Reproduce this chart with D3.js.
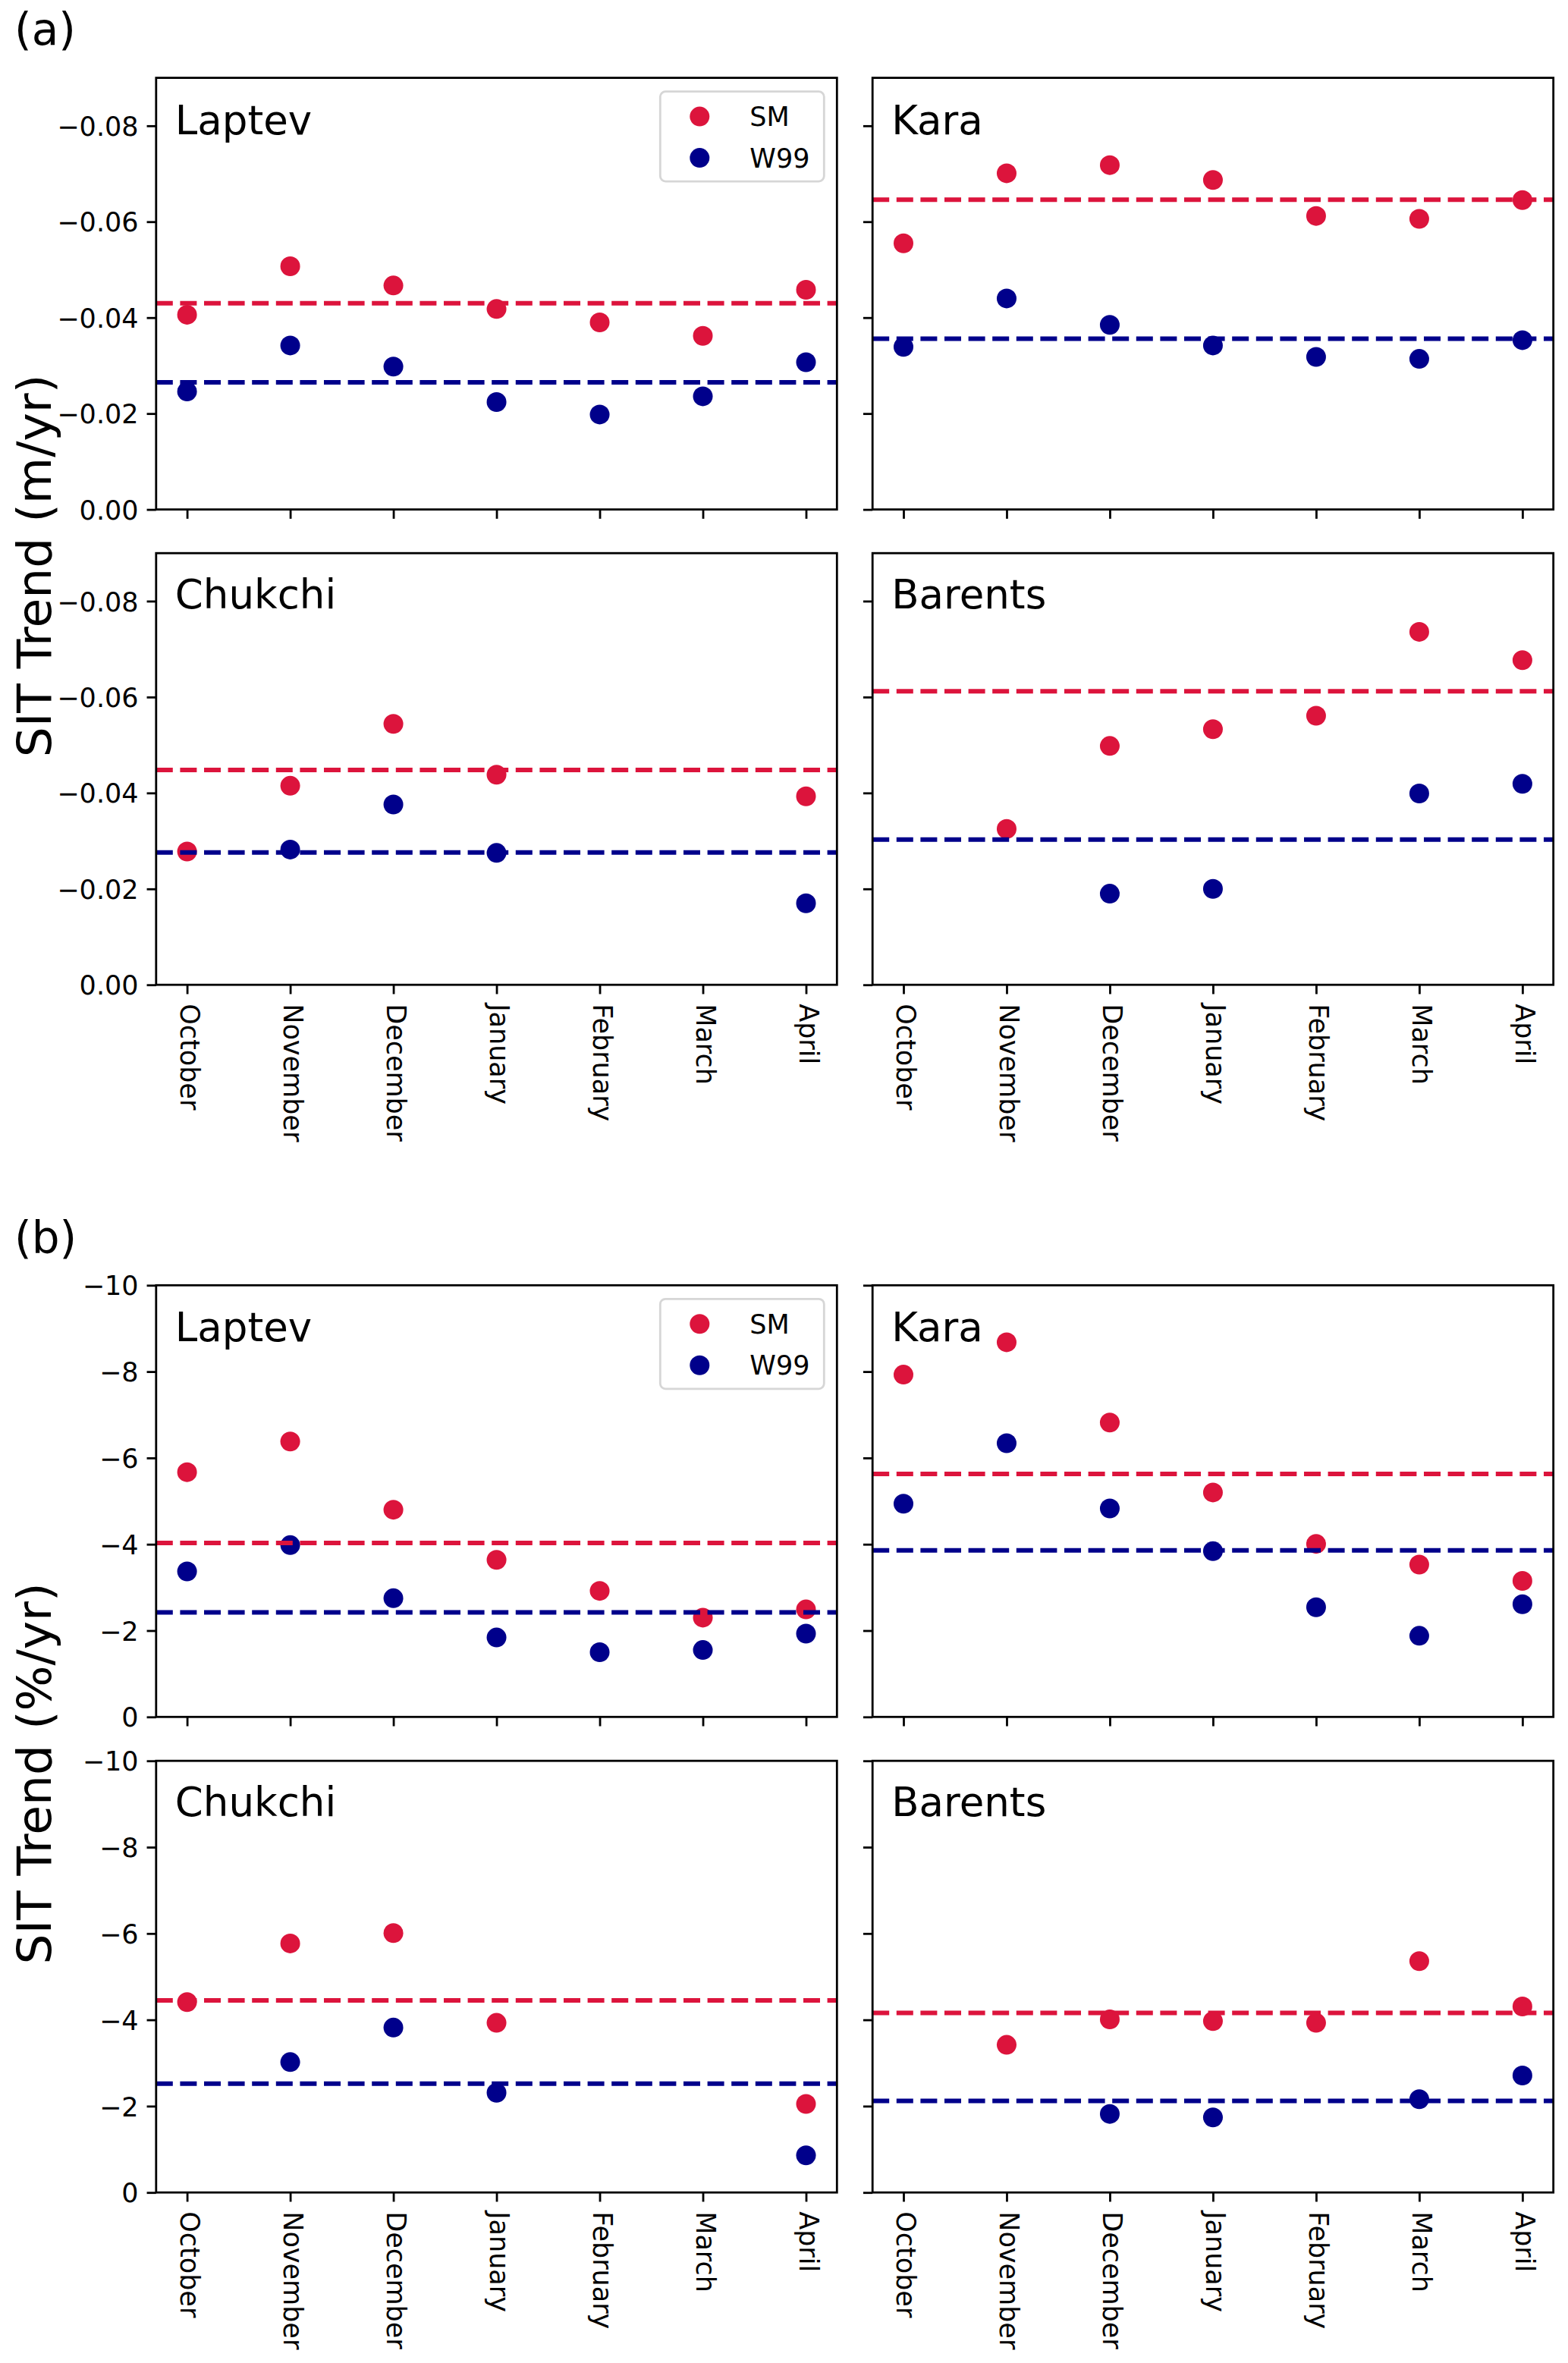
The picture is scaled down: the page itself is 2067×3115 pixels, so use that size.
<!DOCTYPE html>
<html>
<head>
<meta charset="utf-8">
<script src="https://cdn.jsdelivr.net/npm/d3@7"></script>
<style>
  html, body { margin: 0; padding: 0; background: #fff; }
  svg { display: block; font-family: "DejaVu Sans", sans-serif; }
</style>
</head>
<body>
<div id="chart"></div>
<script>
// SIT trend per month, four Arctic seas, two retrievals (SM, W99)
const months = ["October", "November", "December", "January", "February", "March", "April"];
const regions = ["Laptev", "Kara", "Chukchi", "Barents"];
const seriesNames = ["SM", "W99"];

// (a) trend in m/yr
const laptevSM_a   = [-0.0406, -0.0507, -0.0467, -0.0418, -0.0390, -0.0362, -0.0458];
const laptevW99_a  = [-0.0246, -0.0342, -0.0298, -0.0224, -0.0198, -0.0236, -0.0307];
const karaSM_a     = [-0.0555, -0.0701, -0.0718, -0.0687, -0.0612, -0.0606, -0.0645];
const karaW99_a    = [-0.0339, -0.0440, -0.0385, -0.0342, -0.0318, -0.0314, -0.0353];
const chukchiSM_a  = [-0.0278, -0.0415, -0.0544, -0.0438, null, null, -0.0393];
const chukchiW99_a = [null, -0.0282, -0.0376, -0.0275, null, null, -0.0170];
const barentsSM_a  = [null, -0.0325, -0.0498, -0.0533, -0.0561, -0.0736, -0.0677];
const barentsW99_a = [null, null, -0.0190, -0.0200, null, -0.0399, -0.0419];
const meanSM_a  = [-0.0430, -0.0646, -0.0448, -0.0612];
const meanW99_a = [-0.0265, -0.0356, -0.0276, -0.0303];
const ticks_a = [0, -0.02, -0.04, -0.06, -0.08];

// (b) trend in %/yr
const laptevSM_b   = [-5.67, -6.38, -4.80, -3.64, -2.92, -2.30, -2.49];
const laptevW99_b  = [-3.37, -3.98, -2.75, -1.84, -1.50, -1.55, -1.93];
const karaSM_b     = [-7.93, -8.68, -6.82, -5.20, -4.01, -3.53, -3.15];
const karaW99_b    = [-4.94, -6.34, -4.83, -3.84, -2.54, -1.88, -2.61];
const chukchiSM_b  = [-4.41, -5.77, -6.01, -3.93, null, null, -2.05];
const chukchiW99_b = [null, -3.02, -3.82, -2.31, null, null, -0.86];
const barentsSM_b  = [null, -3.42, -4.01, -3.97, -3.93, -5.36, -4.31];
const barentsW99_b = [null, null, -1.82, -1.74, null, -2.16, -2.71];
const meanSM_b  = [-4.03, -5.63, -4.45, -4.16];
const meanW99_b = [-2.42, -3.86, -2.52, -2.12];
const ticks_b = [0, -2, -4, -6, -8, -10];

const COLORS = { SM: "#DC143C", W99: "#00008B" };
const W = 2067, H = 3115;
const colX = [205.8, 1150.2];
const plotW = 897.5, plotH = 569;

const groups = [
  {
    tag: "(a)", tagY: 59, label: "SIT Trend (m/yr)", labelY: 746,
    tops: [102.6, 729.2], ymin: -0.09, ticks: ticks_a, fmt: d3.format(".2f"),
    sm: [laptevSM_a, karaSM_a, chukchiSM_a, barentsSM_a],
    w99: [laptevW99_a, karaW99_a, chukchiW99_a, barentsW99_a],
    meanSM: meanSM_a, meanW99: meanW99_a,
  },
  {
    tag: "(b)", tagY: 1652, label: "SIT Trend (%/yr)", labelY: 2338,
    tops: [1694.3, 2321.2], ymin: -10, ticks: ticks_b, fmt: d3.format("d"),
    sm: [laptevSM_b, karaSM_b, chukchiSM_b, barentsSM_b],
    w99: [laptevW99_b, karaW99_b, chukchiW99_b, barentsW99_b],
    meanSM: meanSM_b, meanW99: meanW99_b,
  },
];

const svg = d3.select("#chart").append("svg")
  .attr("width", W).attr("height", H)
  .attr("viewBox", `0 0 ${W} ${H}`)
  .style("overflow", "hidden");

svg.append("rect").attr("width", W).attr("height", H).attr("fill", "#fff");

groups.forEach(grp => {
  svg.append("text")
    .attr("x", 19).attr("y", grp.tagY)
    .attr("font-size", 58)
    .text(grp.tag);

  svg.append("text")
    .attr("transform", `translate(67,${grp.labelY}) rotate(-90)`)
    .attr("text-anchor", "middle")
    .attr("font-size", 63)
    .text(grp.label);

  regions.forEach((name, ri) => {
    const col = ri % 2, row = Math.floor(ri / 2);
    const x0 = colX[col], y0 = grp.tops[row];
    const g = svg.append("g").attr("transform", `translate(${x0},${y0})`);

    const x = d3.scaleLinear().domain([-0.3, 6.3]).range([0, plotW]);
    const y = d3.scaleLinear().domain([0, grp.ymin]).range([plotH, 0]);

    // axes
    const yAxis = d3.axisLeft(y).tickValues(grp.ticks)
      .tickSize(12.25).tickPadding(11)
      .tickFormat(col === 0 ? grp.fmt : () => "");
    const ya = g.append("g").call(yAxis);
    ya.select(".domain").remove();
    ya.selectAll(".tick line").attr("stroke-width", 2.8);
    ya.selectAll(".tick text").attr("font-size", 35).attr("font-family", "DejaVu Sans")
      .attr("dy", "0.36em");

    const xAxis = d3.axisBottom(x).tickValues(d3.range(months.length))
      .tickSize(12.25)
      .tickFormat(row === 1 ? (i => months[i]) : () => "");
    const xa = g.append("g").attr("transform", `translate(0,${plotH})`).call(xAxis);
    xa.select(".domain").remove();
    xa.selectAll(".tick line").attr("stroke-width", 2.8);
    xa.selectAll(".tick text")
      .attr("font-size", 35).attr("font-family", "DejaVu Sans")
      .attr("y", 0).attr("x", 25).attr("dy", "0.26em")
      .attr("transform", "rotate(90)")
      .style("text-anchor", "start");

    // points
    const drawPts = (vals, key) => {
      g.append("g").selectAll("circle")
        .data(vals.map((v, i) => ({ i, v })).filter(d => d.v !== null))
        .join("circle")
        .attr("cx", d => x(d.i)).attr("cy", d => y(d.v))
        .attr("r", 13).attr("fill", COLORS[key]);
    };
    drawPts(grp.sm[ri], "SM");
    drawPts(grp.w99[ri], "W99");

    // mean lines
    [["SM", grp.meanSM[ri]], ["W99", grp.meanW99[ri]]].forEach(([key, m]) => {
      g.append("line")
        .attr("x1", 0).attr("x2", plotW)
        .attr("y1", y(m)).attr("y2", y(m))
        .attr("stroke", COLORS[key]).attr("stroke-width", 6)
        .attr("stroke-dasharray", "22 9.6");
    });

    // frame
    g.append("rect").attr("width", plotW).attr("height", plotH)
      .attr("fill", "none").attr("stroke", "#000").attr("stroke-width", 2.8);

    g.append("text")
      .attr("x", 25).attr("y", row === 0 ? 74 : 73)
      .attr("font-size", 53)
      .text(name);

    if (ri === 0) {
      const lg = g.append("g").attr("transform", `translate(${plotW - 233},18)`);
      lg.append("rect").attr("width", 216).attr("height", 118.5).attr("rx", 7)
        .attr("fill", "#fff").attr("fill-opacity", 0.8)
        .attr("stroke", "#d6d6d6").attr("stroke-width", 2.8);
      seriesNames.forEach((s, k) => {
        const cy = 33 + k * 54.5;
        lg.append("circle").attr("cx", 52).attr("cy", cy).attr("r", 13).attr("fill", COLORS[s]);
        lg.append("text").attr("x", 118).attr("y", cy).attr("dy", "0.36em")
          .attr("font-size", 35).text(s);
      });
    }
  });
});
</script>
</body>
</html>
